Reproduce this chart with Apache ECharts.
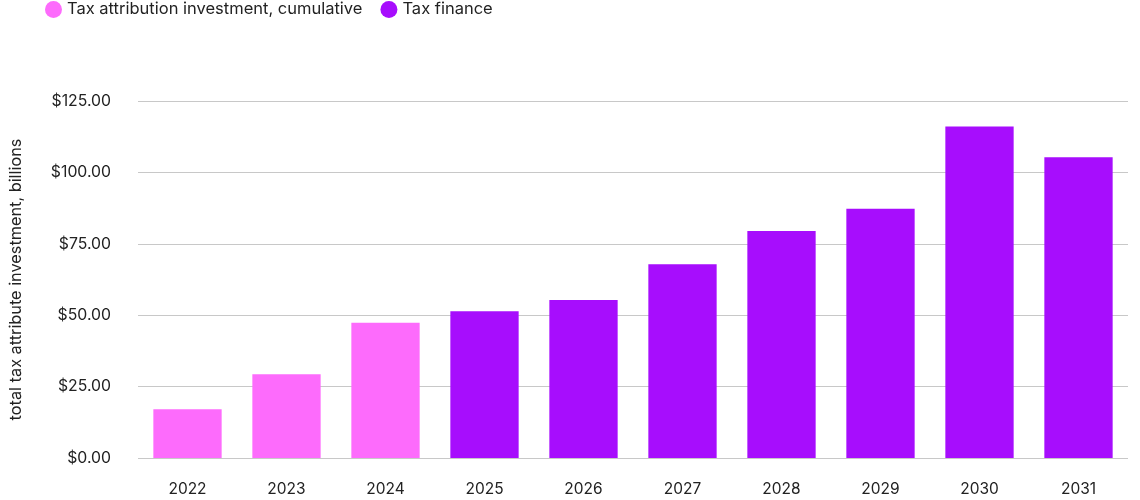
<!DOCTYPE html>
<html><head><meta charset="utf-8">
<script src="https://cdn.jsdelivr.net/npm/echarts@6/dist/echarts.min.js"></script>
<style>html,body{margin:0;padding:0;background:#fff}#c{width:1140px;height:500px}</style>
</head><body><div id="c"></div>
<script>
const categories = ['2022','2023','2024','2025','2026','2027','2028','2029','2030','2031'];
const cumulative = [17.1, 29.3, 47.4, null, null, null, null, null, null, null];
const taxFinance = [null, null, null, 51.4, 55.3, 67.8, 79.5, 87.3, 116.1, 105.3];
const yTicks = [0, 25, 50, 75, 100, 125];

const chart = echarts.init(document.getElementById('c'));
const font = 'Inter, "Liberation Sans", sans-serif';
chart.setOption({
  animation: false,
  legend: {
    left: 40, top: -4, itemWidth: 17, itemHeight: 17, itemGap: 18,
    icon: 'circle',
    textStyle: { fontFamily: font, fontSize: 16.5, color: '#222' },
    data: ['Tax attribution investment, cumulative', 'Tax finance']
  },
  grid: { left: 133, right: 12, top: 101, bottom: 42 },
  xAxis: {
    type: 'category', data: categories,
    axisLine: { show: false }, axisTick: { show: false },
    axisLabel: { fontFamily: font, fontSize: 15.5, color: '#222', margin: 23 }
  },
  yAxis: {
    type: 'value', min: yTicks[0], max: yTicks[yTicks.length - 1], interval: 25,
    name: 'total tax attribute investment, billions',
    nameLocation: 'middle', nameGap: 114, nameRotate: 90,
    nameTextStyle: { fontFamily: font, fontSize: 16.3, color: '#222' },
    axisLabel: { fontFamily: font, fontSize: 15.8, color: '#222', margin: 27,
      formatter: v => '$' + v.toFixed(2) },
    splitLine: { lineStyle: { color: '#c8c8c8', width: 1 } }
  },
  series: [
    { name: 'Tax attribution investment, cumulative', type: 'bar', stack: 'a',
      data: cumulative, barWidth: '69%', itemStyle: { color: '#FD6BFC' } },
    { name: 'Tax finance', type: 'bar', stack: 'a',
      data: taxFinance, barWidth: '69%', itemStyle: { color: '#A70DFD' } }
  ]
});
</script></body></html>
